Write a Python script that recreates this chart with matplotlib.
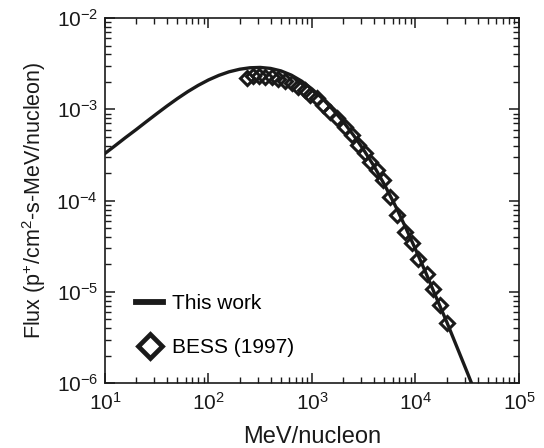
import matplotlib
matplotlib.use("Agg")
import matplotlib.pyplot as plt
from matplotlib.lines import Line2D
from matplotlib.ticker import LogLocator, NullFormatter

plt.rcParams["font.family"] = ["Liberation Sans", "DejaVu Sans"]
plt.rcParams["mathtext.fontset"] = "custom"
plt.rcParams["mathtext.rm"] = "Liberation Sans"
plt.rcParams["mathtext.it"] = "Liberation Sans:italic"
plt.rcParams["axes.unicode_minus"] = False

# model curve ("This work")
model_energy = [10, 12.6, 15.8, 20, 25.1, 31.6, 39.8, 50.1, 63.1, 79.4, 100,
                126, 158, 200, 251, 316, 398, 501, 631, 794, 1000, 1260, 1580,
                2000, 2510, 3160, 3980, 5010, 6310, 7940, 10000, 12600, 15800,
                20000, 25100, 31600, 39800]
model_flux = [3.29e-4, 4.02e-4, 4.91e-4, 6.00e-4, 7.33e-4, 8.95e-4, 1.089e-3,
              1.312e-3, 1.563e-3, 1.828e-3, 2.099e-3, 2.355e-3, 2.576e-3,
              2.748e-3, 2.851e-3, 2.877e-3, 2.805e-3, 2.636e-3, 2.371e-3,
              2.037e-3, 1.671e-3, 1.318e-3, 1.002e-3, 7.36e-4, 5.24e-4,
              3.60e-4, 2.38e-4, 1.50e-4, 9.04e-5, 5.23e-5, 2.94e-5, 1.62e-5,
              8.81e-6, 4.73e-6, 2.51e-6, 1.32e-6, 6.86e-7]

# BESS (1997) measurements
bess_energy = [234, 271, 310, 352, 407, 473, 548, 637, 738, 855, 957, 1109,
               1288, 1493, 1758, 2084, 2421, 2800, 3250, 3630, 4220, 4890,
               5680, 6580, 7930, 9180, 10640, 12820, 14860, 17260, 20000]
bess_flux = [2.18e-3, 2.31e-3, 2.31e-3, 2.28e-3, 2.24e-3, 2.13e-3, 2.06e-3,
             1.92e-3, 1.77e-3, 1.63e-3, 1.43e-3, 1.32e-3, 1.11e-3, 9.40e-4,
             7.96e-4, 6.44e-4, 5.22e-4, 4.06e-4, 3.29e-4, 2.66e-4, 2.16e-4,
             1.68e-4, 1.09e-4, 6.93e-5, 4.55e-5, 3.40e-5, 2.32e-5, 1.59e-5,
             1.09e-5, 7.16e-6, 4.58e-6]

fig = plt.figure(figsize=(5.44, 4.48), dpi=100)
ax = fig.add_axes([0.193, 0.1444, 0.761, 0.8154])

ax.plot(model_energy, model_flux, color="#1a1a1a", lw=2.4, zorder=3)
ax.plot(bess_energy, bess_flux, ls="none", marker="D", ms=7.6,
        mfc="none", mec="#1a1a1a", mew=2.2, zorder=2)

ax.set_xscale("log")
ax.set_yscale("log")
ax.set_xlim(10, 1e5)
ax.set_ylim(1e-6, 1e-2)

ax.xaxis.set_major_locator(LogLocator(base=10, numticks=10))
ax.yaxis.set_major_locator(LogLocator(base=10, numticks=10))
ax.xaxis.set_minor_locator(LogLocator(base=10, subs=range(2, 10), numticks=100))
ax.yaxis.set_minor_locator(LogLocator(base=10, subs=range(2, 10), numticks=100))
ax.xaxis.set_minor_formatter(NullFormatter())
ax.yaxis.set_minor_formatter(NullFormatter())

ax.tick_params(which="both", direction="in", top=True, right=True,
               labelsize=15, color="#1a1a1a", labelcolor="#1a1a1a")
ax.tick_params(which="major", length=7, width=1.1)
ax.tick_params(which="minor", length=4.5, width=1.0)
ax.tick_params(axis="x", which="major", pad=6)
ax.tick_params(axis="y", which="major", pad=5)
for s in ax.spines.values():
    s.set_linewidth(1.2)
    s.set_color("#1a1a1a")

ax.set_xlabel("MeV/nucleon", fontsize=17, color="#1a1a1a", labelpad=9)
ax.set_ylabel(r"Flux (p$^{+}$/cm$^{2}$-s-MeV/nucleon)", fontsize=15.5,
              color="#1a1a1a", labelpad=6)

handles = [
    Line2D([], [], color="#1a1a1a", lw=4.2),
    Line2D([], [], ls="none", marker="D", ms=12.5, mfc="none",
           mec="#1a1a1a", mew=3.4),
]
ax.legend(handles, ["This work", "BESS (1997)"], loc="lower left",
          bbox_to_anchor=(0.03, 0.02), frameon=False, fontsize=15,
          handlelength=1.3, handletextpad=0.4, labelspacing=1.2)

fig.savefig("out.png", dpi=100)
